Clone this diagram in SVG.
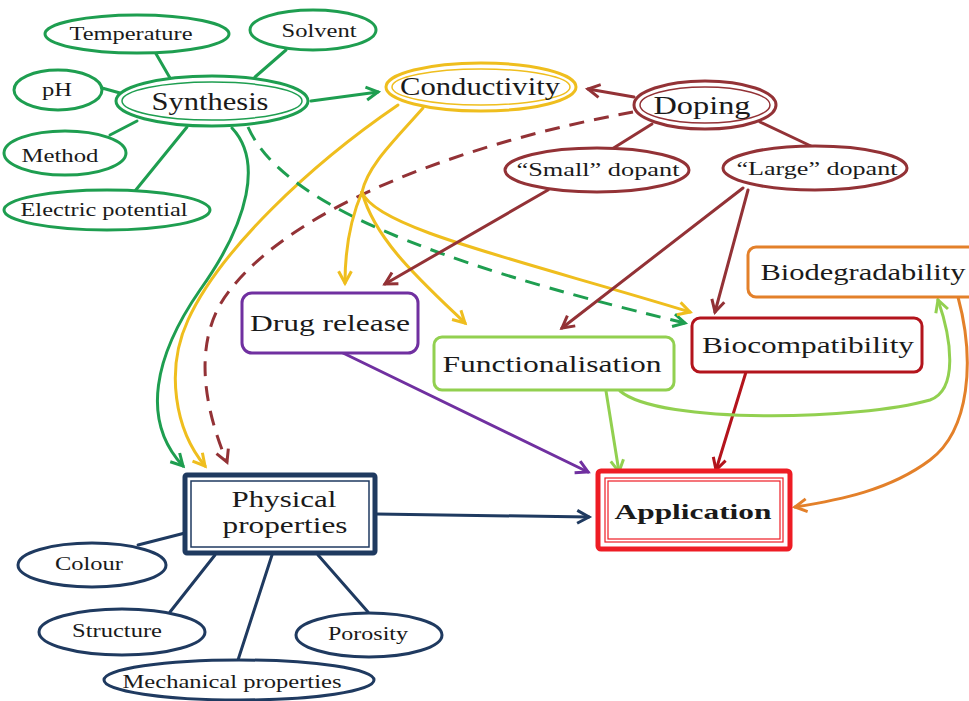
<svg xmlns="http://www.w3.org/2000/svg" width="969" height="701" viewBox="0 0 969 701">
<style>
text{font-family:"Liberation Serif","Times New Roman",serif;fill:#1a1a1a;text-anchor:middle}
.s{font-size:19px}
.b{font-size:24px}
.c{fill:none;stroke-width:3;stroke-linecap:round}
.e{fill:#fff;stroke-width:3}
.dash{stroke-dasharray:15 10;stroke-linecap:butt}
.G{stroke:#1e9e50}.Y{stroke:#efbe1e}.R{stroke:#933236}.P{stroke:#7030a0}.L{stroke:#92d050}.D{stroke:#b3141c}.O{stroke:#e3802a}.N{stroke:#1f3a60}.A{stroke:#ee1c24}
</style>
<defs>
<marker id="mG" viewBox="0 0 14 14" refX="12" refY="7" markerWidth="15" markerHeight="15" markerUnits="userSpaceOnUse" orient="auto" overflow="visible"><path d="M1,1 L12,7 L1,13" fill="none" stroke="#1e9e50" stroke-width="2.8" stroke-dasharray="none"/></marker>
<marker id="mY" viewBox="0 0 14 14" refX="12" refY="7" markerWidth="15" markerHeight="15" markerUnits="userSpaceOnUse" orient="auto" overflow="visible"><path d="M1,1 L12,7 L1,13" fill="none" stroke="#efbe1e" stroke-width="2.8" stroke-dasharray="none"/></marker>
<marker id="mR" viewBox="0 0 14 14" refX="12" refY="7" markerWidth="15" markerHeight="15" markerUnits="userSpaceOnUse" orient="auto" overflow="visible"><path d="M1,1 L12,7 L1,13" fill="none" stroke="#933236" stroke-width="2.8" stroke-dasharray="none"/></marker>
<marker id="mP" viewBox="0 0 14 14" refX="12" refY="7" markerWidth="15" markerHeight="15" markerUnits="userSpaceOnUse" orient="auto" overflow="visible"><path d="M1,1 L12,7 L1,13" fill="none" stroke="#7030a0" stroke-width="2.8"/></marker>
<marker id="mL" viewBox="0 0 14 14" refX="12" refY="7" markerWidth="15" markerHeight="15" markerUnits="userSpaceOnUse" orient="auto" overflow="visible"><path d="M1,1 L12,7 L1,13" fill="none" stroke="#92d050" stroke-width="2.8"/></marker>
<marker id="mD" viewBox="0 0 14 14" refX="12" refY="7" markerWidth="15" markerHeight="15" markerUnits="userSpaceOnUse" orient="auto" overflow="visible"><path d="M1,1 L12,7 L1,13" fill="none" stroke="#b3141c" stroke-width="2.8"/></marker>
<marker id="mO" viewBox="0 0 14 14" refX="12" refY="7" markerWidth="15" markerHeight="15" markerUnits="userSpaceOnUse" orient="auto" overflow="visible"><path d="M1,1 L12,7 L1,13" fill="none" stroke="#e3802a" stroke-width="2.8"/></marker>
<marker id="mN" viewBox="0 0 14 14" refX="12" refY="7" markerWidth="15" markerHeight="15" markerUnits="userSpaceOnUse" orient="auto" overflow="visible"><path d="M1,1 L12,7 L1,13" fill="none" stroke="#1f3a60" stroke-width="2.8"/></marker>
</defs>
<rect width="969" height="701" fill="#fff"/>

<g id="connectors">
  <!-- plain links -->
  <line class="c G" x1="155" y1="52" x2="170" y2="78"/>
  <line class="c G" x1="102" y1="88" x2="120" y2="93"/>
  <line class="c G" x1="110" y1="135" x2="137" y2="121"/>
  <line class="c G" x1="135" y1="191" x2="187" y2="127"/>
  <line class="c G" x1="286" y1="50" x2="255" y2="77"/>
  <line class="c R" x1="652" y1="124" x2="612" y2="149"/>
  <line class="c R" x1="760" y1="122" x2="813" y2="147"/>
  <line class="c N" x1="138" y1="545" x2="185" y2="533"/>
  <line class="c N" x1="170" y1="612" x2="215" y2="555"/>
  <line class="c N" x1="238" y1="660" x2="272" y2="555"/>
  <line class="c N" x1="368" y1="612" x2="318" y2="555"/>
  <!-- arrows -->
  <path class="c G" d="M311,101 L378,92" marker-end="url(#mG)"/>
  <path class="c R" d="M634,97 L588,89" marker-end="url(#mR)"/>
  <path class="c G" d="M232,128 C262,160 250,220 200,290 C155,355 140,420 183,466" marker-end="url(#mG)"/>
  <path class="c Y" d="M398,105 C310,165 220,250 188,320 C165,370 175,430 205,466" marker-end="url(#mY)"/>
  <path class="c R dash" d="M633,112 C480,140 300,200 230,290 C190,340 205,410 227,462" marker-end="url(#mR)"/>
  <path class="c G dash" d="M248,127 C280,200 420,260 685,323" marker-end="url(#mG)"/>
  <path class="c Y" d="M423,108 C395,140 368,165 362,192"/>
  <path class="c Y" d="M362,192 C350,220 345,250 345,283" marker-end="url(#mY)"/>
  <path class="c Y" d="M362,192 C375,240 420,280 465,323" marker-end="url(#mY)"/>
  <path class="c Y" d="M362,192 C375,228 520,260 690,312" marker-end="url(#mY)"/>
  <path class="c R" d="M548,190 L385,284" marker-end="url(#mR)"/>
  <path class="c R" d="M743,188 L562,328" marker-end="url(#mR)"/>
  <path class="c R" d="M748,190 L715,312" marker-end="url(#mR)"/>
  <path class="c P" d="M343,353 L588,472" marker-end="url(#mP)"/>
  <path class="c N" d="M376,514 L589,517" marker-end="url(#mN)"/>
  <path class="c L" d="M606,391 L619,472" marker-end="url(#mL)"/>
  <path class="c D" d="M746,372 L716,470" marker-end="url(#mD)"/>
  <path class="c L" d="M620,391 C660,425 860,420 930,400 C958,390 952,340 938,300" marker-end="url(#mL)"/>
  <path class="c O" d="M958,297 C975,360 970,430 930,460 C890,490 840,500 795,507" marker-end="url(#mO)"/>
</g>

<g id="temperature"><ellipse class="e G" cx="137" cy="34" rx="92" ry="19"/><text class="s" x="131" y="40" textLength="123" lengthAdjust="spacingAndGlyphs">Temperature</text></g>
<g id="solvent"><ellipse class="e G" cx="313" cy="30" rx="63" ry="20"/><text class="s" x="319" y="37" textLength="75" lengthAdjust="spacingAndGlyphs">Solvent</text></g>
<g id="ph"><ellipse class="e G" cx="58" cy="90" rx="44" ry="20"/><text class="s" x="57" y="96" textLength="30" lengthAdjust="spacingAndGlyphs">pH</text></g>
<g id="method"><ellipse class="e G" cx="65" cy="153" rx="61" ry="22"/><text class="s" x="60" y="162" textLength="77" lengthAdjust="spacingAndGlyphs">Method</text></g>
<g id="electric-potential"><ellipse class="e G" cx="107" cy="210" rx="103" ry="20"/><text class="s" x="104" y="216" textLength="167" lengthAdjust="spacingAndGlyphs">Electric potential</text></g>
<g id="synthesis"><ellipse class="e G" cx="212" cy="101" rx="96" ry="25" stroke-width="4"/><ellipse cx="212" cy="101" rx="90" ry="19" fill="none" stroke="#1e9e50" stroke-width="1.5"/><text x="210" y="110" font-size="26" textLength="117" lengthAdjust="spacingAndGlyphs">Synthesis</text></g>
<g id="conductivity"><ellipse class="e Y" cx="481" cy="87" rx="95" ry="24" stroke-width="4"/><ellipse cx="481" cy="87" rx="89" ry="18" fill="none" stroke="#efbe1e" stroke-width="1.5"/><text x="480" y="95" font-size="25" textLength="160" lengthAdjust="spacingAndGlyphs">Conductivity</text></g>
<g id="doping"><ellipse class="e R" cx="705" cy="105" rx="71" ry="24" stroke-width="4"/><ellipse cx="705" cy="105" rx="65" ry="18" fill="none" stroke="#933236" stroke-width="1.5"/><text x="702" y="114" font-size="26" textLength="97" lengthAdjust="spacingAndGlyphs">Doping</text></g>
<g id="small-dopant"><ellipse class="e R" cx="597" cy="170" rx="92" ry="22"/><text x="598" y="176" font-size="18" textLength="163" lengthAdjust="spacingAndGlyphs">“Small” dopant</text></g>
<g id="large-dopant"><ellipse class="e R" cx="815" cy="168" rx="92" ry="22"/><text x="817" y="175" font-size="18" textLength="161" lengthAdjust="spacingAndGlyphs">“Large” dopant</text></g>
<g id="drug-release"><rect class="e P" x="242" y="293" width="176" height="60" rx="10"/><text x="330" y="331" font-size="24" textLength="160" lengthAdjust="spacingAndGlyphs">Drug release</text></g>
<g id="functionalisation"><rect class="e L" x="434" y="337" width="240" height="53" rx="8"/><text x="552" y="372" font-size="23" textLength="219" lengthAdjust="spacingAndGlyphs">Functionalisation</text></g>
<g id="biocompatibility"><rect class="e D" x="692" y="318" width="230" height="54" rx="8"/><text x="808" y="353" font-size="23" textLength="212" lengthAdjust="spacingAndGlyphs">Biocompatibility</text></g>
<g id="biodegradability"><rect class="e O" x="748" y="247" width="235" height="50" rx="8"/><text x="863" y="280" font-size="23" textLength="205" lengthAdjust="spacingAndGlyphs">Biodegradability</text></g>
<g id="physical-properties"><rect x="185" y="475" width="190" height="78" rx="2" fill="#fff" stroke="#1f3a60" stroke-width="5"/><rect x="191" y="481" width="178" height="66" fill="none" stroke="#1f3a60" stroke-width="1.5"/><text x="284" y="507" font-size="23" textLength="105" lengthAdjust="spacingAndGlyphs">Physical</text><text x="285" y="533" font-size="23" textLength="125" lengthAdjust="spacingAndGlyphs">properties</text></g>
<g id="application"><rect x="598" y="471" width="192" height="78" rx="3" fill="#fff" stroke="#ee1c24" stroke-width="5"/><rect x="605" y="478" width="178" height="64" fill="none" stroke="#ee1c24" stroke-width="1.2"/><rect x="608" y="481" width="172" height="58" fill="none" stroke="#ee1c24" stroke-width="1.2"/><text x="693" y="519" font-size="22" font-weight="bold" textLength="157" lengthAdjust="spacingAndGlyphs">Application</text></g>
<g id="colour"><ellipse class="e N" cx="92" cy="565" rx="74" ry="22"/><text x="89" y="570" font-size="18" textLength="68" lengthAdjust="spacingAndGlyphs">Colour</text></g>
<g id="structure"><ellipse class="e N" cx="122" cy="632" rx="83" ry="23"/><text x="117" y="637" font-size="18" textLength="90" lengthAdjust="spacingAndGlyphs">Structure</text></g>
<g id="porosity"><ellipse class="e N" cx="369" cy="635" rx="73" ry="22"/><text x="368" y="640" font-size="18" textLength="80" lengthAdjust="spacingAndGlyphs">Porosity</text></g>
<g id="mechanical-properties"><ellipse class="e N" cx="239" cy="680" rx="135" ry="20"/><text x="232" y="688" font-size="18" textLength="219" lengthAdjust="spacingAndGlyphs">Mechanical properties</text></g>
</svg>
